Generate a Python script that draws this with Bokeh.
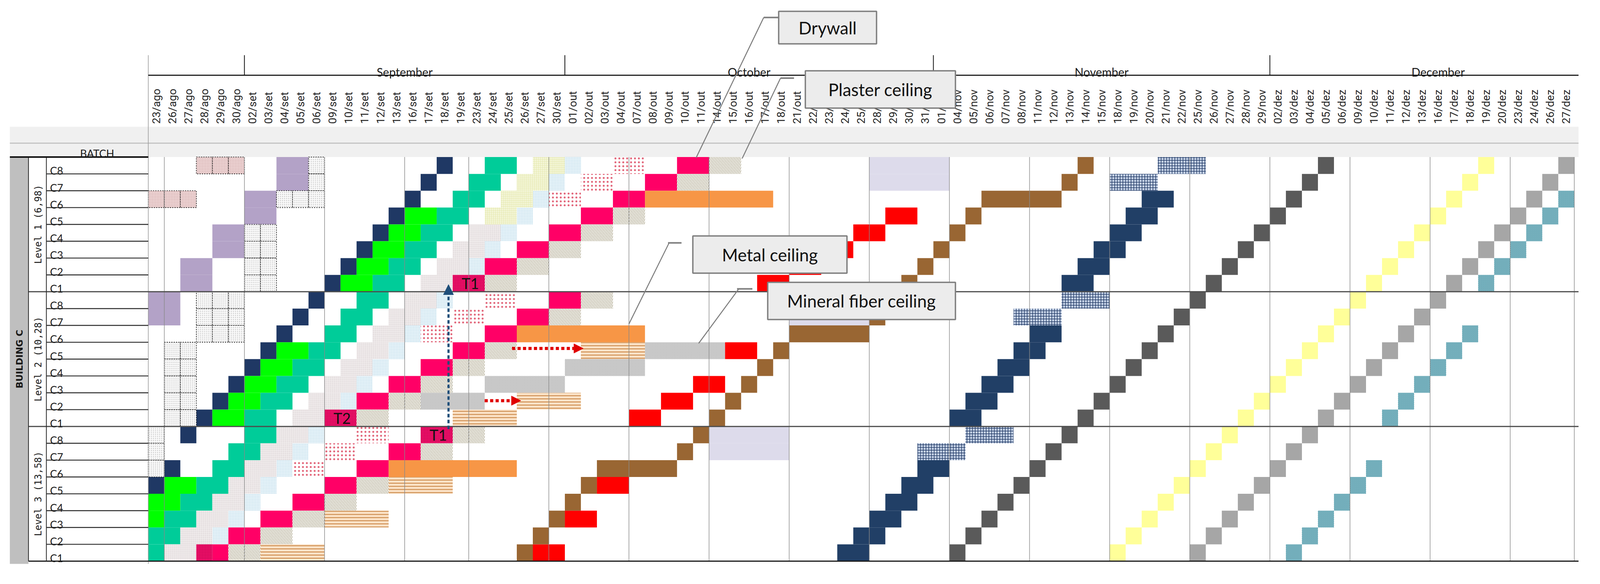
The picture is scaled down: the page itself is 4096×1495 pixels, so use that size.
import math
import datetime
from bokeh.plotting import figure
from bokeh.models import Range1d, ColumnDataSource, Arrow, NormalHead
from bokeh.core.properties import value
from bokeh.embed import file_html
from bokeh.resources import INLINE

# ---------------------------------------------------------------- data
YEAR = 2019
MONTH_NUM = {"ago": 8, "set": 9, "out": 10, "nov": 11, "dez": 12}

dates = ["23/ago", "26/ago", "27/ago", "28/ago", "29/ago", "30/ago",
         "02/set", "03/set", "04/set", "05/set", "06/set", "09/set", "10/set", "11/set", "12/set", "13/set",
         "16/set", "17/set", "18/set", "19/set", "23/set", "24/set", "25/set", "26/set", "27/set", "30/set",
         "01/out", "02/out", "03/out", "04/out", "07/out", "08/out", "09/out", "10/out", "11/out",
         "14/out", "15/out", "16/out", "17/out", "18/out", "21/out", "22/out", "23/out", "24/out", "25/out",
         "28/out", "29/out", "30/out", "31/out",
         "01/nov", "04/nov", "05/nov", "06/nov", "07/nov", "08/nov", "11/nov", "12/nov", "13/nov", "14/nov",
         "15/nov", "18/nov", "19/nov", "20/nov", "21/nov", "22/nov", "25/nov", "26/nov", "27/nov", "28/nov",
         "29/nov",
         "02/dez", "03/dez", "04/dez", "05/dez", "06/dez", "09/dez", "10/dez", "11/dez", "12/dez", "13/dez",
         "16/dez", "17/dez", "18/dez", "19/dez", "20/dez", "23/dez", "24/dez", "26/dez", "27/dez"]
next_working_day = "30/dez"          # first day after the last column (a Monday)

months = ["September", "October", "November", "December"]
month_abbr = ["set", "out", "nov", "dez"]
dez_days_after_chart = 2             # 30/dez, 31/dez lie beyond the last column

levels = ["Level 1 (6,98)", "Level 2 (10,28)", "Level 3 (13,58)"]
batches = ["C8", "C7", "C6", "C5", "C4", "C3", "C2", "C1"]
building = "BUILDING C"
batch_title = "BATCH"
callout_labels = ["Drywall", "Plaster ceiling", "Metal ceiling", "Mineral fiber ceiling"]

# activities: (level, batch, start day, working days)
purple = [(1, "C8", "04/set", 2), (1, "C7", "04/set", 2), (1, "C6", "02/set", 2), (1, "C5", "02/set", 2),
          (1, "C4", "29/ago", 2), (1, "C3", "29/ago", 2), (1, "C2", "27/ago", 2), (1, "C1", "27/ago", 2),
          (2, "C8", "23/ago", 2), (2, "C7", "23/ago", 2)]
pink_dotted = [(1, "C8", "28/ago", 3), (1, "C6", "23/ago", 3)]
white_dotted = [(1, "C8", "06/set", 1), (1, "C7", "06/set", 1), (1, "C6", "04/set", 3),
                (1, "C4", "02/set", 2), (1, "C3", "02/set", 2), (1, "C2", "02/set", 2), (1, "C1", "02/set", 2),
                (2, "C8", "28/ago", 3), (2, "C7", "28/ago", 3), (2, "C6", "28/ago", 3),
                (2, "C5", "26/ago", 2), (2, "C4", "26/ago", 2), (2, "C3", "26/ago", 2), (2, "C2", "26/ago", 2),
                (2, "C1", "26/ago", 2), (3, "C8", "23/ago", 1), (3, "C7", "23/ago", 1), (3, "C6", "23/ago", 1)]
navy_a = [(1, "C1", "09/set", 1), (1, "C2", "10/set", 1), (1, "C3", "11/set", 1), (1, "C4", "12/set", 1),
          (1, "C5", "13/set", 1), (1, "C6", "16/set", 1), (1, "C7", "17/set", 1), (1, "C8", "18/set", 1),
          (2, "C1", "28/ago", 1), (2, "C2", "29/ago", 1), (2, "C3", "30/ago", 1), (2, "C4", "02/set", 1),
          (2, "C5", "03/set", 1), (2, "C6", "04/set", 1), (2, "C7", "05/set", 1), (2, "C8", "06/set", 1),
          (3, "C5", "23/ago", 1), (3, "C6", "26/ago", 1), (3, "C8", "27/ago", 1)]
green = [(1, "C1", "10/set", 2), (1, "C2", "11/set", 2), (1, "C3", "12/set", 2), (1, "C4", "13/set", 2),
         (1, "C5", "16/set", 2), (2, "C1", "29/ago", 2), (2, "C2", "30/ago", 2), (2, "C3", "02/set", 2),
         (2, "C4", "03/set", 2), (2, "C5", "04/set", 2), (3, "C3", "23/ago", 1), (3, "C4", "23/ago", 2),
         (3, "C5", "26/ago", 2)]
teal = [(1, "C1", "12/set", 2), (1, "C2", "13/set", 2), (1, "C3", "16/set", 2), (1, "C4", "17/set", 2),
        (1, "C5", "18/set", 2), (1, "C6", "19/set", 2), (1, "C7", "23/set", 2), (1, "C8", "24/set", 2),
        (2, "C1", "02/set", 2), (2, "C2", "03/set", 2), (2, "C3", "04/set", 2), (2, "C4", "05/set", 2),
        (2, "C5", "06/set", 2), (2, "C6", "09/set", 2), (2, "C7", "10/set", 2), (2, "C8", "11/set", 2),
        (3, "C1", "23/ago", 1), (3, "C2", "23/ago", 2), (3, "C3", "26/ago", 2), (3, "C4", "27/ago", 2),
        (3, "C5", "28/ago", 2), (3, "C6", "29/ago", 2), (3, "C7", "30/ago", 2), (3, "C8", "02/set", 2)]
light_grey = [(1, "C1", "17/set", 2), (1, "C2", "18/set", 2), (1, "C3", "19/set", 2), (1, "C4", "23/set", 2),
              (2, "C1", "05/set", 2), (2, "C2", "06/set", 2), (2, "C3", "09/set", 2), (2, "C4", "10/set", 2),
              (2, "C5", "11/set", 2), (2, "C6", "12/set", 2), (2, "C7", "13/set", 2), (2, "C8", "16/set", 2),
              (3, "C1", "26/ago", 2), (3, "C2", "27/ago", 2), (3, "C3", "28/ago", 2), (3, "C4", "29/ago", 2),
              (3, "C5", "30/ago", 2), (3, "C6", "02/set", 2), (3, "C7", "03/set", 2), (3, "C8", "04/set", 2)]
light_yellow_grid = [(1, "C5", "24/set", 2), (1, "C6", "25/set", 2), (1, "C7", "26/set", 2), (1, "C8", "27/set", 2)]
light_blue = [(1, "C2", "23/set", 1), (1, "C3", "24/set", 1), (1, "C4", "25/set", 1), (1, "C5", "26/set", 1),
              (1, "C6", "27/set", 1), (1, "C7", "30/set", 1), (1, "C8", "01/out", 1),
              (2, "C2", "10/set", 1), (2, "C3", "11/set", 1), (2, "C4", "12/set", 1), (2, "C5", "13/set", 1),
              (2, "C6", "16/set", 1), (2, "C7", "17/set", 1), (2, "C8", "18/set", 1),
              (3, "C2", "29/ago", 1), (3, "C3", "30/ago", 1), (3, "C4", "02/set", 1), (3, "C5", "03/set", 1),
              (3, "C6", "04/set", 1), (3, "C7", "05/set", 1), (3, "C8", "06/set", 1)]
red_dotted = [(1, "C6", "30/set", 2), (1, "C7", "02/out", 2), (1, "C8", "04/out", 2),
              (2, "C6", "17/set", 2), (2, "C7", "19/set", 2), (2, "C8", "24/set", 2),
              (3, "C6", "05/set", 2), (3, "C7", "09/set", 2), (3, "C8", "11/set", 2)]
pink = [(1, "C2", "24/set", 2), (1, "C3", "26/set", 2), (1, "C4", "30/set", 2), (1, "C5", "02/out", 2),
        (1, "C6", "04/out", 2), (1, "C7", "08/out", 2), (1, "C8", "10/out", 2),
        (2, "C2", "11/set", 2), (2, "C3", "13/set", 2), (2, "C4", "17/set", 2), (2, "C5", "19/set", 2),
        (2, "C6", "24/set", 2), (2, "C7", "26/set", 2), (2, "C8", "30/set", 2),
        (3, "C1", "29/ago", 1), (3, "C2", "30/ago", 2), (3, "C3", "03/set", 2), (3, "C4", "05/set", 2),
        (3, "C5", "09/set", 2), (3, "C6", "11/set", 2), (3, "C7", "13/set", 2)]
pink_marked = [(1, "C1", "19/set", 2), (2, "C1", "09/set", 2), (3, "C8", "17/set", 2), (3, "C1", "28/ago", 1)]
marks = ["T1", "T2", "T1", ""]
plaster = [(1, "C1", "24/set", 2), (1, "C2", "26/set", 2), (1, "C3", "30/set", 2), (1, "C4", "02/out", 2),
           (1, "C5", "04/out", 2), (1, "C7", "10/out", 2), (1, "C8", "14/out", 2),
           (2, "C1", "11/set", 2), (2, "C2", "13/set", 2), (2, "C3", "17/set", 2), (2, "C4", "19/set", 2),
           (2, "C5", "24/set", 2), (2, "C7", "30/set", 2), (2, "C8", "02/out", 2),
           (3, "C1", "30/ago", 2), (3, "C2", "03/set", 2), (3, "C3", "05/set", 2), (3, "C4", "09/set", 2),
           (3, "C5", "11/set", 2), (3, "C7", "17/set", 2), (3, "C8", "19/set", 2)]
metal = [(1, "C6", "08/out", 8), (2, "C6", "26/set", 8), (3, "C6", "13/set", 8)]
striped = [(3, "C1", "03/set", 4), (3, "C3", "09/set", 4), (3, "C5", "13/set", 4),
           (2, "C1", "19/set", 4), (2, "C2", "26/set", 4), (2, "C5", "02/out", 4)]
mineral = [(2, "C2", "17/set", 4), (2, "C3", "24/set", 5), (2, "C4", "01/out", 5), (2, "C5", "08/out", 5)]
red = [(1, "C1", "17/out", 2), (1, "C2", "21/out", 2), (1, "C3", "23/out", 2), (1, "C4", "25/out", 2),
       (1, "C5", "29/out", 2), (2, "C1", "07/out", 2), (2, "C2", "09/out", 2), (2, "C3", "11/out", 2),
       (2, "C5", "15/out", 2), (3, "C1", "27/set", 2), (3, "C3", "01/out", 2), (3, "C5", "03/out", 2)]
brown = [(3, "C1", "26/set", 1), (3, "C2", "27/set", 1), (3, "C3", "30/set", 1), (3, "C4", "01/out", 1),
         (3, "C5", "02/out", 1), (3, "C6", "03/out", 5), (3, "C7", "10/out", 1), (3, "C8", "11/out", 1),
         (2, "C1", "14/out", 1), (2, "C2", "15/out", 1), (2, "C3", "16/out", 1), (2, "C4", "17/out", 1),
         (2, "C5", "18/out", 1), (2, "C6", "21/out", 5), (2, "C7", "28/out", 1), (2, "C8", "29/out", 1),
         (1, "C1", "30/out", 1), (1, "C2", "31/out", 1), (1, "C3", "01/nov", 1), (1, "C4", "04/nov", 1),
         (1, "C5", "05/nov", 1), (1, "C6", "06/nov", 5), (1, "C7", "13/nov", 1), (1, "C8", "14/nov", 1)]
lavender = [(1, "C8", "28/out", 5), (1, "C7", "28/out", 5), (2, "C8", "21/out", 5), (2, "C7", "21/out", 5),
            (3, "C8", "14/out", 5), (3, "C7", "14/out", 5)]
navy_b = [(3, "C1", "24/out", 2), (3, "C2", "25/out", 2), (3, "C3", "28/out", 2), (3, "C4", "29/out", 2),
          (3, "C5", "30/out", 2), (3, "C6", "31/out", 2), (2, "C1", "04/nov", 2), (2, "C2", "05/nov", 2),
          (2, "C3", "06/nov", 2), (2, "C4", "07/nov", 2), (2, "C5", "08/nov", 2), (2, "C6", "11/nov", 2),
          (1, "C1", "13/nov", 2), (1, "C2", "14/nov", 2), (1, "C3", "15/nov", 2), (1, "C4", "18/nov", 2),
          (1, "C5", "19/nov", 2), (1, "C6", "20/nov", 2)]
navy_grid = [(3, "C7", "31/out", 3), (3, "C8", "05/nov", 3), (2, "C7", "08/nov", 3), (2, "C8", "13/nov", 3),
             (1, "C7", "18/nov", 3), (1, "C8", "21/nov", 3)]
dark_grey = [(3, "C1", "04/nov", 1), (3, "C2", "05/nov", 1), (3, "C3", "06/nov", 1), (3, "C4", "07/nov", 1),
             (3, "C5", "08/nov", 1), (3, "C6", "11/nov", 1), (3, "C7", "12/nov", 1), (3, "C8", "13/nov", 1),
             (2, "C1", "14/nov", 1), (2, "C2", "15/nov", 1), (2, "C3", "18/nov", 1), (2, "C4", "19/nov", 1),
             (2, "C5", "20/nov", 1), (2, "C6", "21/nov", 1), (2, "C7", "22/nov", 1), (2, "C8", "25/nov", 1),
             (1, "C1", "26/nov", 1), (1, "C2", "27/nov", 1), (1, "C3", "28/nov", 1), (1, "C4", "29/nov", 1),
             (1, "C5", "02/dez", 1), (1, "C6", "03/dez", 1), (1, "C7", "04/dez", 1), (1, "C8", "05/dez", 1)]
yellow = [(3, "C1", "18/nov", 1), (3, "C2", "19/nov", 1), (3, "C3", "20/nov", 1), (3, "C4", "21/nov", 1),
          (3, "C5", "22/nov", 1), (3, "C6", "25/nov", 1), (3, "C7", "26/nov", 1), (3, "C8", "27/nov", 1),
          (2, "C1", "28/nov", 1), (2, "C2", "29/nov", 1), (2, "C3", "02/dez", 1), (2, "C4", "03/dez", 1),
          (2, "C5", "04/dez", 1), (2, "C6", "05/dez", 1), (2, "C7", "06/dez", 1), (2, "C8", "09/dez", 1),
          (1, "C1", "10/dez", 1), (1, "C2", "11/dez", 1), (1, "C3", "12/dez", 1), (1, "C4", "13/dez", 1),
          (1, "C5", "16/dez", 1), (1, "C6", "17/dez", 1), (1, "C7", "18/dez", 1), (1, "C8", "19/dez", 1)]
mid_grey = [(3, "C1", "25/nov", 1), (3, "C2", "26/nov", 1), (3, "C3", "27/nov", 1), (3, "C4", "28/nov", 1),
            (3, "C5", "29/nov", 1), (3, "C6", "02/dez", 1), (3, "C7", "03/dez", 1), (3, "C8", "04/dez", 1),
            (2, "C1", "05/dez", 1), (2, "C2", "06/dez", 1), (2, "C3", "09/dez", 1), (2, "C4", "10/dez", 1),
            (2, "C5", "11/dez", 1), (2, "C6", "12/dez", 1), (2, "C7", "13/dez", 1), (2, "C8", "16/dez", 1),
            (1, "C1", "17/dez", 1), (1, "C2", "18/dez", 1), (1, "C3", "19/dez", 1), (1, "C4", "20/dez", 1),
            (1, "C5", "23/dez", 1), (1, "C6", "24/dez", 1), (1, "C7", "26/dez", 1), (1, "C8", "27/dez", 1)]
teal_hatch = [(3, "C1", "03/dez", 1), (3, "C2", "04/dez", 1), (3, "C3", "05/dez", 1), (3, "C4", "06/dez", 1),
              (3, "C5", "09/dez", 1), (3, "C6", "10/dez", 1),
              (2, "C1", "11/dez", 1), (2, "C2", "12/dez", 1), (2, "C3", "13/dez", 1), (2, "C4", "16/dez", 1),
              (2, "C5", "17/dez", 1), (2, "C6", "18/dez", 1),
              (1, "C1", "19/dez", 1), (1, "C2", "20/dez", 1), (1, "C3", "23/dez", 1), (1, "C4", "24/dez", 1),
              (1, "C5", "26/dez", 1), (1, "C6", "27/dez", 1)]

# ---------------------------------------------------------------- layout (reference pixels -> grid units)
S = 0.935
COL_W, ROW_H, X0, Y0 = 43.87, 46.1, 414.0, 438.0


def gx(X):
    return (X - X0) / COL_W


def gy(Y):
    return (Y - Y0) / ROW_H


W, H = 4080, 1479
p = figure(width=W, height=H,
           x_range=Range1d(gx(8 / S), gx(8 / S + W / S)),
           y_range=Range1d(gy(8 / S + H / S), gy(8 / S)),
           output_backend="svg", toolbar_location=None, min_border=0,
           x_axis_location=None, y_axis_location=None, outline_line_color=None,
           background_fill_color="white", border_fill_color="white")
p.grid.visible = False

NROWS = len(levels) * len(batches)
NCOLS = len(dates)
XR = gx(4330)          # right end of the sheet


def row_of(lvl, b):
    return (lvl - 1) * len(batches) + batches.index(b)


def add_cells(entries, style, split=False):
    L, R, T, B = [], [], [], []
    for lvl, b, start, n in entries:
        r = row_of(lvl, b)
        c = dates.index(start)
        pieces = [(c + k, 1) for k in range(n)] if split else [(c, n)]
        for c0, w in pieces:
            L.append(c0); R.append(c0 + w); T.append(r); B.append(r + 1)
    src = ColumnDataSource(dict(left=L, right=R, top=T, bottom=B))
    st = dict(line_color=None)
    st.update(style)
    p.quad(left="left", right="right", top="top", bottom="bottom", source=src, **st)


# ---------------------------------------------------------------- header bands
p.quad(left=[gx(35)], right=[XR], top=[gy(355)], bottom=[gy(399)], fill_color="#f0f0f0", line_color=None)
p.quad(left=[gx(35)], right=[XR], top=[gy(401)], bottom=[0], fill_color="#f0f0f0", line_color=None)
p.segment(x0=[gx(35)], y0=[gy(400)], x1=[XR], y1=[gy(400)], line_color="#c4c4c4", line_width=3)

# left panel
p.quad(left=[gx(35)], right=[gx(86)], top=[0], bottom=[gy(1552)], fill_color="#bfbfbf", line_color=None)

# ---------------------------------------------------------------- cells
add_cells(purple, dict(fill_color="#b3a2c7"))
add_cells(navy_a, dict(fill_color="#1f3864"))
add_cells(green, dict(fill_color="#00ff00"))
add_cells(teal, dict(fill_color="#00cc99"))
add_cells(light_grey, dict(fill_color="#e6e0e1", hatch_pattern="+", hatch_color="#f6f2f2",
                           hatch_scale=5, hatch_weight=0.8))
add_cells(light_yellow_grid, dict(fill_color="#f4f6da", hatch_pattern="+", hatch_color="#e2e6a6",
                                  hatch_scale=5, hatch_weight=0.8))
add_cells(light_blue, dict(fill_color="#eef7fb", hatch_pattern=".", hatch_color="#9cc8de",
                           hatch_scale=4, hatch_weight=1))
add_cells(red_dotted, dict(fill_color="#ffffff", hatch_pattern=".", hatch_color="#e2667a",
                           hatch_scale=10, hatch_weight=1.2))
add_cells(pink, dict(fill_color="#ff0066"))
add_cells(pink_marked, dict(fill_color="#f0106a", hatch_pattern=".", hatch_color="#a0003e",
                            hatch_scale=4, hatch_weight=0.9))
add_cells(plaster, dict(fill_color="#ffffff", hatch_pattern="/", hatch_color="#9e9677",
                        hatch_scale=8, hatch_weight=1.3))
add_cells(metal, dict(fill_color="#f79646"))
add_cells(striped, dict(fill_color="#fde6cc", hatch_pattern="-", hatch_color="#d49a62",
                        hatch_scale=8, hatch_weight=3))
add_cells(mineral, dict(fill_color="#e2e2e2", hatch_pattern="x", hatch_color="#8c8c8c",
                        hatch_scale=4, hatch_weight=0.8))
add_cells(red, dict(fill_color="#ff0000"))
add_cells(brown, dict(fill_color="#996633"))
add_cells(lavender, dict(fill_color="#dddbeb"))
add_cells(navy_b, dict(fill_color="#213f66"))
add_cells(navy_grid, dict(fill_color="#c9d6ea", hatch_pattern="+", hatch_color="#1f3864",
                          hatch_scale=7, hatch_weight=1.5))
add_cells(dark_grey, dict(fill_color="#5a5a5a"))
add_cells(yellow, dict(fill_color="#ffff99"))
add_cells(mid_grey, dict(fill_color="#a6a6a6"))
add_cells(teal_hatch, dict(fill_color="#e2f6f8", hatch_pattern="\\", hatch_color="#2a7f93",
                           hatch_scale=5, hatch_weight=1.4))
add_cells(pink_dotted, dict(fill_color="#f3dcdc", hatch_pattern=".", hatch_color="#b07c7c",
                            hatch_scale=4, hatch_weight=1, line_color="#111111",
                            line_dash="3 3", line_width=1.6), split=True)
add_cells(white_dotted, dict(fill_color="#fbfbfb", hatch_pattern=".", hatch_color="#bdbdbd",
                             hatch_scale=5, hatch_weight=1, line_color="#111111",
                             line_dash="3 3", line_width=1.6), split=True)


# ---------------------------------------------------------------- grid lines
def weekday(label):
    d, m = label.split("/")
    return datetime.date(YEAR, MONTH_NUM[m], int(d)).weekday()


week_cols = [i for i, d in enumerate(dates) if weekday(d) == 0]
if weekday(next_working_day) == 0:
    week_cols.append(NCOLS)
p.segment(x0=week_cols, y0=[0] * len(week_cols), x1=week_cols, y1=[NROWS] * len(week_cols),
          line_color="#8a8a8a", line_width=1.6, line_alpha=0.9)

# grid left border (through header)
p.segment(x0=[0], y0=[gy(159)], x1=[0], y1=[gy(1552)], line_color="#9a9a9a", line_width=1.6)

# level separators and bottom
lv = [len(batches) * k for k in range(1, len(levels))]
p.segment(x0=[gx(86)] * len(lv), y0=lv, x1=[XR] * len(lv), y1=lv, line_color="#4d4d4d", line_width=3)
p.segment(x0=[gx(86)], y0=[NROWS], x1=[XR], y1=[NROWS], line_color="#1a1a1a", line_width=3)
# batch row separators in label column
rs = [r for r in range(1, NROWS) if r % len(batches) != 0]
p.segment(x0=[gx(135)] * len(rs), y0=rs, x1=[0] * len(rs), y1=rs, line_color="#2a2a2a", line_width=2.4)
# verticals of the left panel
p.segment(x0=[gx(86), gx(135)], y0=[0, 0], x1=[gx(86), gx(135)], y1=[NROWS, NROWS],
          line_color="#2a2a2a", line_width=2)
p.segment(x0=[gx(35)], y0=[0], x1=[0], y1=[0], line_color="#111111", line_width=4)

# ---------------------------------------------------------------- header: months and dates
m_start = [next(i for i, d in enumerate(dates) if d.endswith("/" + a)) for a in month_abbr]
m_end = m_start[1:] + [NCOLS + dez_days_after_chart]
p.segment(x0=m_start, y0=[gy(159)] * len(m_start), x1=m_start, y1=[gy(214)] * len(m_start),
          line_color="#111111", line_width=2)
p.segment(x0=[0], y0=[gy(214)], x1=[XR], y1=[gy(214)], line_color="#111111", line_width=2.6)
p.text(x=[(a + b) / 2 for a, b in zip(m_start, m_end)], y=[gy(205)] * len(months), text=months,
       text_align="center", text_baseline="alphabetic", text_font=value("Lato"),
       text_font_size="30px", text_color="#1a1a1a")
p.text(x=[i + 0.5 for i in range(NCOLS)], y=[gy(347)] * NCOLS, text=dates, angle=math.pi / 2,
       text_align="left", text_baseline="middle", text_font=value("Roboto"),
       text_font_size="28px", text_color="#262626")

# ---------------------------------------------------------------- left labels
p.text(x=[gx(274)], y=[gy(428)], text=[batch_title], text_align="center", text_baseline="alphabetic",
       text_font=value("Lato"), text_font_size="27px", text_color="#1a1a1a")
p.text(x=[gx(145)] * NROWS, y=[r + 0.81 for r in range(NROWS)], text=batches * len(levels),
       text_align="left", text_baseline="alphabetic", text_font=value("Lato"),
       text_font_size="27px", text_color="#1a1a1a")
p.text(x=[gx(113)] * len(levels), y=[len(batches) * (k + 0.5) for k in range(len(levels))], text=levels,
       angle=math.pi / 2, text_align="center", text_baseline="middle",
       text_font=value("DejaVu Sans Mono"), text_font_size="24px", text_color="#1a1a1a")
p.text(x=[gx(61)], y=[NROWS / 2], text=[building], angle=math.pi / 2, text_align="center",
       text_baseline="middle", text_font=value("DejaVu Sans"), text_font_style="bold",
       text_font_size="23px", text_color="#1a1a1a")

# T marks
mx, my, mt = [], [], []
for (lvl, b, start, n), t in zip(pink_marked, marks):
    if t:
        mx.append(dates.index(start) + n / 2 + 0.1)
        my.append(row_of(lvl, b) + 0.5)
        mt.append(t)
p.text(x=mx, y=my, text=mt, text_align="center", text_baseline="middle", text_font=value("Lato"),
       text_font_size="38px", text_color="#111111")

# ---------------------------------------------------------------- arrows
p.add_layout(Arrow(end=NormalHead(size=26, fill_color="#1f4e79", line_color="#1f4e79"),
                   x_start=gx(1236), y_start=gy(1183), x_end=gx(1236), y_end=gy(787),
                   line_color="#1f4e79", line_width=5.5, line_dash="9 6"))
p.add_layout(Arrow(end=NormalHead(size=24, fill_color="#e00000", line_color="#e00000"),
                   x_start=gx(1410), y_start=gy(962), x_end=gx(1605), y_end=gy(962),
                   line_color="#e00000", line_width=8, line_dash="8 6"))
p.add_layout(Arrow(end=NormalHead(size=24, fill_color="#e00000", line_color="#e00000"),
                   x_start=gx(1335), y_start=gy(1105), x_end=gx(1434), y_end=gy(1105),
                   line_color="#e00000", line_width=8, line_dash="8 6"))

# ---------------------------------------------------------------- callouts
callout_layout = [
    dict(box=(2140, 2408, 39, 128), tick=(2099, 2140, 56), lead=(2099, 56, 1914, 440)),
    dict(box=(2213, 2624, 202, 304), tick=(2145, 2182, 222), lead=(2145, 222, 2040, 442)),
    dict(box=(1905, 2327, 654, 756), tick=(1837, 1874, 673), lead=(1840, 673, 1730, 895)),
    dict(box=(2110, 2624, 781, 883), tick=(2026, 2068, 799), lead=(2030, 800, 1921, 948)),
]
for lab, c in zip(callout_labels, callout_layout):
    x0, x1, y0, y1 = c["box"]
    lx0, ly0, lx1, ly1 = c["lead"]
    tx0, tx1, ty = c["tick"]
    p.segment(x0=[gx(lx0)], y0=[gy(ly0)], x1=[gx(lx1)], y1=[gy(ly1)], line_color="#7f7f7f", line_width=2.6)
    p.segment(x0=[gx(tx0)], y0=[gy(ty)], x1=[gx(tx1)], y1=[gy(ty)], line_color="#7f7f7f", line_width=4)
    p.quad(left=[gx(x0)], right=[gx(x1)], top=[gy(y0)], bottom=[gy(y1)], fill_color="#ececec",
           line_color="#7f7f7f", line_width=3.5)
    p.text(x=[gx((x0 + x1) / 2)], y=[gy((y0 + y1) / 2)], text=[lab], text_align="center",
           text_baseline="middle", text_font=value("Lato"), text_font_size="44px", text_color="#111111")

open("out.html", "w").write(file_html(p, INLINE))
